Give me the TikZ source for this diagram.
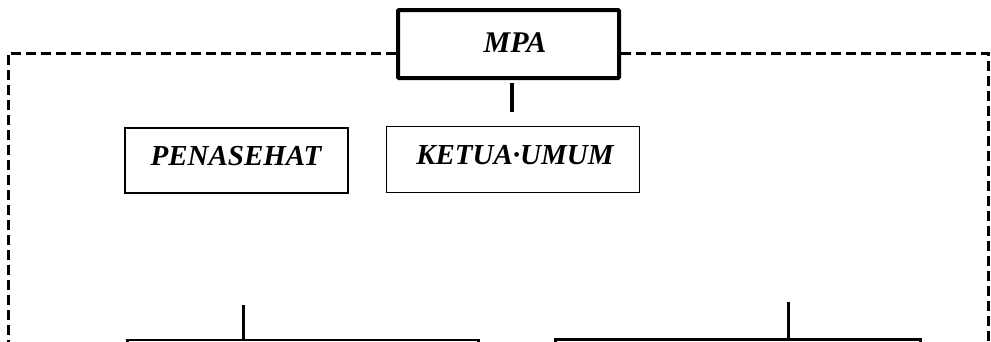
\documentclass[tikz,border=0pt]{standalone}
\usepackage{fontspec}
\setmainfont{Liberation Serif}
\begin{document}
\begin{tikzpicture}[x=1pt,y=-1pt,
  lbl/.style={font=\fontsize{29}{31}\selectfont\bfseries\itshape, inner sep=0pt, anchor=center},
  mpabox/.style={draw, line width=4pt, rounded corners=1pt, minimum width=221pt, minimum height=68pt, inner sep=0pt, font=\fontsize{30}{32}\selectfont\bfseries\itshape},
  penbox/.style={draw, line width=2pt, minimum width=223pt, minimum height=65pt, inner sep=0pt, font=\fontsize{29}{31}\selectfont\bfseries\itshape},
  ketbox/.style={draw, line width=1pt, minimum width=253pt, minimum height=66pt, inner sep=0pt, font=\fontsize{29}{31}\selectfont\bfseries\itshape},
  frame/.style={line width=3pt, dash pattern=on 10pt off 5pt},
  conn/.style={line width=3.5pt},
  lowbox/.style={draw, line width=2.5pt}
]
\useasboundingbox (0,0) rectangle (991,341);
\clip (0,0) rectangle (991,341);
% top box
\node[mpabox] (mpa) at (508.5,44) {};
\node[lbl, font=\fontsize{30}{32}\selectfont\bfseries\itshape] (mpat) at (515,43) {MPA};
% dashed frame
\coordinate (tl) at (8,53);
\coordinate (bl) at (8,345);
\coordinate (tr) at (988,53);
\coordinate (br) at (988,345);
\draw[frame] (mpa.west |- tl) -- (tl) -- (bl);
\draw[frame] (mpa.east |- tr) -- (tr) -- (br);
% connector below MPA
\coordinate (c1) at (512,83);
\coordinate (c2) at (512,112);
\draw[conn] (c1) -- (c2);
% second row
\node[penbox] (pen) at (236.5,160.5) {};
\node[lbl] (pent) at (236,156) {PENASEHAT};
\node[ketbox] (ket) at (512.5,159) {};
\node[lbl] (kett) at (515,155) {KETUA·UMUM};
% bottom boxes
\node[lowbox, minimum width=351pt, minimum height=40pt, inner sep=0pt, anchor=north west] (lowl) at (126,338.5) {};
\node[lowbox, minimum width=365pt, minimum height=40pt, inner sep=0pt, anchor=north west] (lowr) at (554,338) {};
\coordinate (l1) at (243,305);
\coordinate (r1) at (788,302);
\draw[conn, line width=3pt] (l1) -- (l1 |- lowl.north);
\draw[conn, line width=3pt] (r1) -- (r1 |- lowr.north);
\end{tikzpicture}
\end{document}
